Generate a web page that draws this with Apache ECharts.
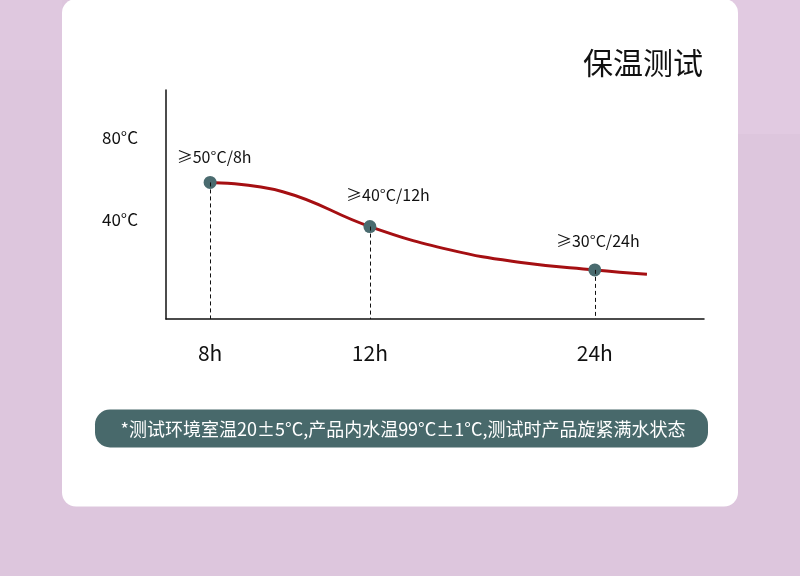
<!DOCTYPE html>
<html>
<head>
<meta charset="utf-8">
<script src="https://cdn.jsdelivr.net/npm/echarts@6/dist/echarts.min.js"></script>
<style>html,body{margin:0;padding:0;}#c{width:800px;height:576px;}</style>
</head>
<body>
<div id="c"></div>
<script>
// ---- data ----
var title = '保温测试';
var note = '*测试环境室温20±5°C,产品内水温99°C±1°C,测试时产品旋紧满水状态';
var hourLabels = ['8h', '12h', '24h'];
var hourPos = [8.2, 37.9, 79.7];          // horizontal placement of each time mark (axis units 0-100)
var pointTemps = [58.2, 36.8, 15.8];      // plotted height of each marker (°C)
var pointLabels = ['≥50°C/8h', '≥40°C/12h', '≥30°C/24h'];
var curveX = [8.2, 21.7, 37.9, 52.8, 66.0, 79.7, 89.4];
var curveY = [58.2, 53.7, 36.8, 25.5, 19.4, 15.8, 13.7];
var yTicks = [40, 80];

var FONT = 'Noto Sans CJK SC';
var chart = echarts.init(document.getElementById('c'), null, {renderer: 'canvas'});

var curveData = curveX.map(function (x, i) { return [x, curveY[i]]; });
var labelOffsets = [[4, 0], [18, -3], [3, -1]];
var labelDist = [11, 14, 13];
var pointData = hourPos.map(function (x, i) {
  return {
    value: [x, pointTemps[i]],
    label: {
      show: true, position: 'top', distance: labelDist[i], offset: labelOffsets[i],
      formatter: pointLabels[i], color: '#111', fontSize: 16, fontFamily: FONT
    }
  };
});
var dropLines = hourPos.map(function (x, i) {
  return [{coord: [x, pointTemps[i]]}, {coord: [x, -8]}];
});

var option = {
  backgroundColor: '#ddc6dd',
  animation: false,
  textStyle: {fontFamily: FONT},
  graphic: [
    {type: 'rect', z: -20, shape: {x: 0, y: 0, width: 62, height: 70}, style: {fill: '#dfc8df'}},
    {type: 'rect', z: -20, shape: {x: 700, y: 0, width: 100, height: 134}, style: {fill: '#e1cae1'}},
    {type: 'rect', z: -10, shape: {x: 62, y: -1, width: 676, height: 507.5, r: 14}, style: {fill: '#ffffff'}},
    {type: 'text', z: 5, style: {x: 703, y: 63, text: title, fill: '#111', font: '30px "' + FONT + '"', textAlign: 'right', textVerticalAlign: 'middle'}},
    {type: 'rect', z: 5, shape: {x: 95, y: 409.5, width: 613, height: 38, r: 15}, style: {fill: '#48696b'}},
    {type: 'text', z: 6, style: {x: 403, y: 429, text: note, fill: '#ffffff', font: '18px "' + FONT + '"', textAlign: 'center', textVerticalAlign: 'middle'}}
  ],
  grid: {left: 166, right: 96, top: 90, bottom: 257, containLabel: false},
  xAxis: {
    type: 'value', min: 0, max: 100,
    splitLine: {show: false},
    axisLine: {show: true, onZero: false, lineStyle: {color: '#111', width: 1.5}},
    axisTick: {show: false},
    axisLabel: {
      show: true, customValues: hourPos, margin: 24,
      fontSize: 21, color: '#111', fontFamily: FONT,
      formatter: function (v) {
        var i = hourPos.indexOf(v);
        return i >= 0 ? hourLabels[i] : '';
      }
    }
  },
  yAxis: {
    type: 'value', min: -8, max: 103,
    splitLine: {show: false},
    axisLine: {show: true, onZero: false, lineStyle: {color: '#111', width: 1.5}},
    axisTick: {show: false},
    axisLabel: {
      show: true, customValues: yTicks, margin: 28,
      fontSize: 17, color: '#111', fontFamily: FONT,
      formatter: '{value}°C'
    }
  },
  series: [
    {
      type: 'line', data: curveData, smooth: 0.45, showSymbol: false, symbol: 'none',
      lineStyle: {color: '#a50f12', width: 3}, z: 3
    },
    {
      type: 'scatter', data: pointData, symbolSize: 13,
      itemStyle: {color: '#4a6b6f', opacity: 1}, z: 4,
      markLine: {
        silent: true, symbol: 'none', animation: false,
        label: {show: false},
        lineStyle: {color: '#111', type: [4, 3], width: 1, opacity: 1},
        data: dropLines
      }
    }
  ]
};
chart.setOption(option);
</script>
</body>
</html>
